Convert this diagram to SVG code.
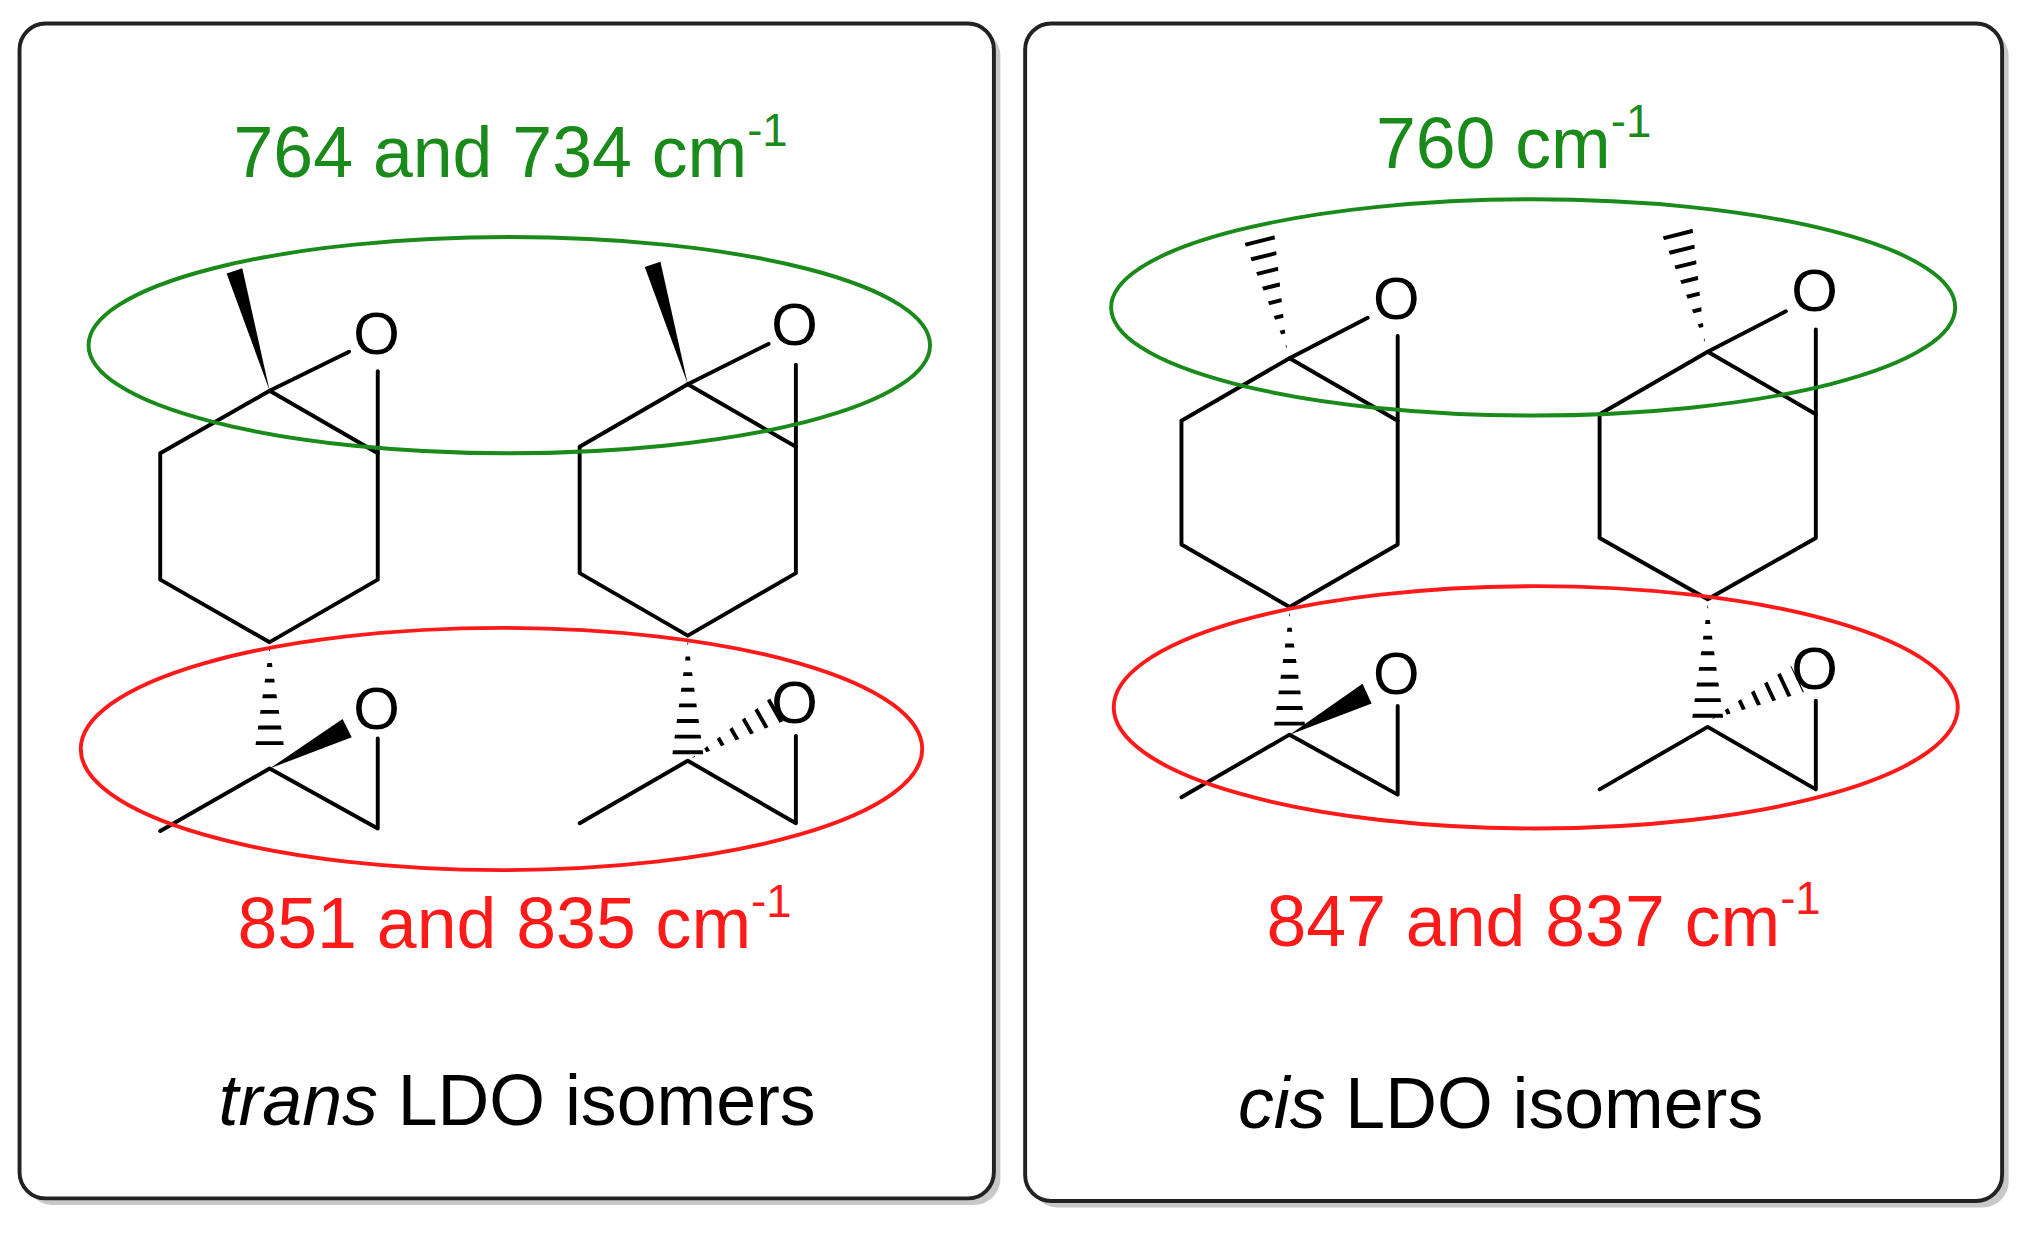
<svg xmlns="http://www.w3.org/2000/svg" width="2032" height="1236" viewBox="0 0 2032 1236">
<style>
.b{stroke:#000;stroke-width:3;fill:none;stroke-linecap:round;stroke-linejoin:round}
.h{stroke:#000;stroke-dasharray:3 9}
.o{font-family:"Liberation Sans",Arial,sans-serif;font-size:46px;fill:#000;text-anchor:middle}
.t{font-family:"Liberation Sans",Arial,sans-serif;font-size:55px;text-anchor:middle}
.g{fill:#1a8a1a}.r{fill:#ff1a1a}.k{fill:#000}
.eg{fill:none;stroke:#1a8a1a;stroke-width:3}
.er{fill:none;stroke:#ff1a1a;stroke-width:3}
</style>
<defs>
<clipPath id="c1" clipPathUnits="userSpaceOnUse"><polygon points="207,497 195,580 219,580"/></clipPath>
<clipPath id="c2" clipPathUnits="userSpaceOnUse"><polygon points="528,492 516,580 540,580"/></clipPath>
<clipPath id="c3" clipPathUnits="userSpaceOnUse"><polygon points="531,582 598,531 608,551"/></clipPath>
<clipPath id="c4" clipPathUnits="userSpaceOnUse"><polygon points="988,268 954,183 978,177"/></clipPath>
<clipPath id="c5" clipPathUnits="userSpaceOnUse"><polygon points="1309,263 1275,178 1299,172"/></clipPath>
<clipPath id="c6" clipPathUnits="userSpaceOnUse"><polygon points="990,470 978,558 1002,558"/></clipPath>
<clipPath id="c7" clipPathUnits="userSpaceOnUse"><polygon points="1311,464 1299,552 1323,552"/></clipPath>
<clipPath id="c8" clipPathUnits="userSpaceOnUse"><polygon points="1314,552 1375,511 1386,531"/></clipPath>
</defs>
<g transform="scale(1.3026)">
<g id="panel-trans">
<rect x="20" y="23" width="748" height="902" rx="20" fill="#c8c8c8"/>
<rect x="15" y="18" width="748" height="902" rx="20" fill="#fff" stroke="#222" stroke-width="3"/>
<text class="t g" x="392" y="136">764 and 734 cm<tspan dy="-24" font-size="35">-1</tspan></text>
<text class="t r" x="395" y="728">851 and 835 cm<tspan dy="-24" font-size="35">-1</tspan></text>
<text class="t k" x="397" y="864" font-size="53"><tspan font-style="italic">trans</tspan> LDO isomers</text>
</g>
<g id="panel-cis">
<rect x="792" y="23" width="750" height="904" rx="20" fill="#c8c8c8"/>
<rect x="787" y="18" width="750" height="904" rx="20" fill="#fff" stroke="#222" stroke-width="3"/>
<text class="t g" x="1162" y="129">760 cm<tspan dy="-24" font-size="35">-1</tspan></text>
<text class="t r" x="1185" y="726">847 and 837 cm<tspan dy="-24" font-size="35">-1</tspan></text>
<text class="t k" x="1152" y="866" font-size="53"><tspan font-style="italic">cis</tspan> LDO isomers</text>
</g>
<g id="mol-trans-1">
<polygon points="207,300 174,210 186,206" fill="#000"/>
<polyline class="b" points="123,348 207,300 290,348 290,445 207,493 123,445 123,348"/>
<line class="b" x1="207" y1="300" x2="268" y2="270"/>
<line class="b" x1="290" y1="285" x2="290" y2="348"/>
<text class="o" x="289" y="272">O</text>
<line class="h" x1="207" y1="497" x2="207" y2="580" stroke-width="24" clip-path="url(#c1)"/>
<polygon points="207,590 263,552 270,566" fill="#000"/>
<polyline class="b" points="123,638 207,590 290,636 290,567"/>
<text class="o" x="289" y="560">O</text>
</g>
<g id="mol-trans-2">
<polygon points="528,295 495,205 507,201" fill="#000"/>
<polyline class="b" points="445,343 528,295 611,343 611,440 528,488 445,440 445,343"/>
<line class="b" x1="528" y1="295" x2="590" y2="264"/>
<line class="b" x1="611" y1="280" x2="611" y2="343"/>
<text class="o" x="610" y="265">O</text>
<line class="h" x1="528" y1="492" x2="528" y2="580" stroke-width="24" clip-path="url(#c2)"/>
<line class="h" x1="531" y1="582" x2="603" y2="541" stroke-width="24" clip-path="url(#c3)"/>
<polyline class="b" points="445,632 528,584 611,632 611,565"/>
<text class="o" x="610" y="555">O</text>
</g>
<g id="mol-cis-1">
<line class="h" x1="988" y1="268" x2="966" y2="180" stroke-width="24" clip-path="url(#c4)"/>
<polyline class="b" points="907,323 990,275 1073,323 1073,418 990,466 907,418 907,323"/>
<line class="b" x1="990" y1="275" x2="1050" y2="244"/>
<line class="b" x1="1073" y1="258" x2="1073" y2="323"/>
<text class="o" x="1072" y="245">O</text>
<line class="h" x1="990" y1="470" x2="990" y2="558" stroke-width="24" clip-path="url(#c6)"/>
<polygon points="990,564 1046,525 1053,540" fill="#000"/>
<polyline class="b" points="907,612 990,564 1073,610 1073,542"/>
<text class="o" x="1072" y="533">O</text>
</g>
<g id="mol-cis-2">
<line class="h" x1="1309" y1="263" x2="1287" y2="175" stroke-width="24" clip-path="url(#c5)"/>
<polyline class="b" points="1228,318 1311,270 1394,318 1394,413 1311,460 1228,413 1228,318"/>
<line class="b" x1="1311" y1="270" x2="1371" y2="239"/>
<line class="b" x1="1394" y1="253" x2="1394" y2="318"/>
<text class="o" x="1393" y="239">O</text>
<line class="h" x1="1311" y1="464" x2="1311" y2="552" stroke-width="24" clip-path="url(#c7)"/>
<line class="h" x1="1314" y1="552" x2="1380" y2="521" stroke-width="24" clip-path="url(#c8)"/>
<polyline class="b" points="1228,606 1311,558 1394,606 1394,538"/>
<text class="o" x="1393" y="529">O</text>
</g>
<g id="ellipses">
<ellipse class="eg" cx="391" cy="265" rx="323" ry="83"/>
<ellipse class="er" cx="385" cy="575" rx="323" ry="93"/>
<ellipse class="eg" cx="1177" cy="236" rx="324" ry="83"/>
<ellipse class="er" cx="1179" cy="543" rx="324" ry="93"/>
</g>
</g>
</svg>
